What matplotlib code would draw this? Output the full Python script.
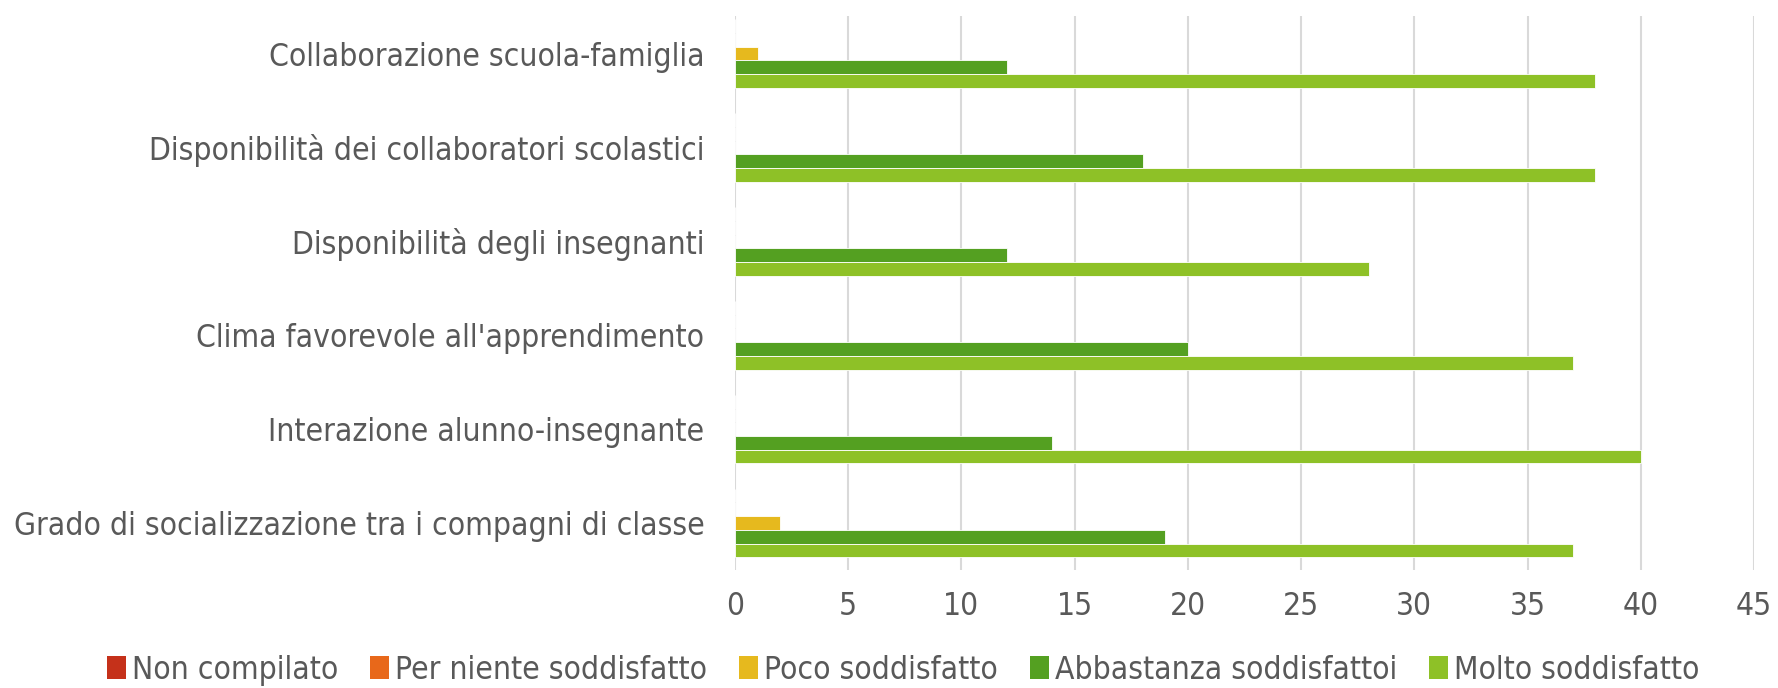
import matplotlib
matplotlib.use('Agg')
import matplotlib.pyplot as plt
from matplotlib import font_manager
from matplotlib.patches import Patch
import numpy as np

# dati
categories = ['Grado di socializzazione tra i compagni di classe',
              'Interazione alunno-insegnante',
              "Clima favorevole all'apprendimento",
              'Disponibilità degli insegnanti',
              'Disponibilità dei collaboratori scolastici',
              'Collaborazione scuola-famiglia']
series_names = ['Non compilato', 'Per niente soddisfatto', 'Poco soddisfatto',
                'Abbastanza soddisfattoi', 'Molto soddisfatto']
non_compilato = [0, 0, 0, 0, 0, 0]
per_niente = [0, 0, 0, 0, 0, 0]
poco = [2, 0, 0, 0, 0, 1]
abbastanza = [19, 14, 20, 12, 18, 12]
molto = [37, 40, 37, 28, 38, 38]
colors = ['#C5311A', '#E8681A', '#E6B91E', '#54A021', '#8EC127']

# font stretto (DejaVu Sans Condensed se c'e')
condensed = any(f.name == 'DejaVu Sans' and f.stretch == 'condensed'
                for f in font_manager.fontManager.ttflist)
plt.rcParams['font.family'] = ['DejaVu Sans']
if condensed:
    plt.rcParams['font.stretch'] = 'condensed'
    fs = 22.8
else:
    fs = 19
text_col = '#595959'

fig = plt.figure(figsize=(17.78, 6.88), dpi=100)
ax = fig.add_axes([0.4134, 0.1715, 0.5731, 0.8052])

values = [non_compilato, per_niente, poco, abbastanza, molto]
y = np.arange(len(categories))
h = 0.146
for i, (vals, col) in enumerate(zip(values, colors)):
    ax.barh(y + (2 - i) * h, vals, height=h, color=col,
            edgecolor='white', linewidth=0.6, zorder=3)

ax.set_xlim(0, 45)
ax.set_ylim(-0.5, 5.4)
ax.set_xticks(range(0, 46, 5))
ax.set_yticks(y)
ax.set_yticklabels(categories)
ax.tick_params(length=0, labelsize=fs, labelcolor=text_col)
ax.tick_params(axis='y', pad=22)
ax.tick_params(axis='x', pad=15)
ax.grid(axis='x', color='#D9D9D9', linewidth=1.5, zorder=0)
for s in ax.spines.values():
    s.set_visible(False)

handles = [Patch(facecolor=c, edgecolor='none') for c in colors]
fig.legend(handles, series_names, loc='center', bbox_to_anchor=(0.508, 0.026),
           ncol=5, frameon=False, fontsize=fs, labelcolor=text_col,
           handlelength=0.6, handleheight=0.7, handletextpad=0.2, columnspacing=1.0)

fig.savefig('out.png', dpi=100)
